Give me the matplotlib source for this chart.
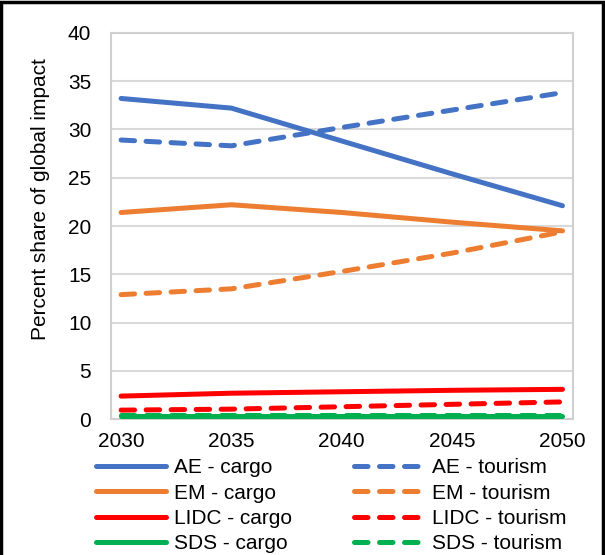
import matplotlib.pyplot as plt
from matplotlib.patches import Rectangle

plt.rcParams['font.family'] = ['Liberation Sans', 'DejaVu Sans']

# Share of global impact by country group and sector
years = [2030, 2035, 2040, 2045, 2050]
ae_cargo = [33.2, 32.2, 28.8, 25.4, 22.1]
ae_tourism = [28.9, 28.3, 30.2, 32.0, 33.8]
em_cargo = [21.4, 22.2, 21.4, 20.4, 19.5]
em_tourism = [12.9, 13.5, 15.3, 17.2, 19.4]
lidc_cargo = [2.4, 2.7, 2.85, 3.0, 3.1]
lidc_tourism = [0.95, 1.05, 1.3, 1.55, 1.8]
sds_cargo = [0.3, 0.3, 0.3, 0.3, 0.3]
sds_tourism = [0.4, 0.4, 0.4, 0.4, 0.4]

BLUE = '#4472C4'
ORANGE = '#ED7D31'
RED = '#FF0000'
GREEN = '#00B050'
FS = 15

fig = plt.figure(figsize=(6.05, 5.55), dpi=100)
ax = fig.add_axes([0.183, 0.2445, 0.7646, 0.6965])

lw = 3.6
dash = (0, (2.7, 2.3))
series = [
    (ae_cargo, BLUE, '-', 'AE - cargo'),
    (em_cargo, ORANGE, '-', 'EM - cargo'),
    (lidc_cargo, RED, '-', 'LIDC - cargo'),
    (sds_cargo, GREEN, '-', 'SDS - cargo'),
    (ae_tourism, BLUE, dash, 'AE - tourism'),
    (em_tourism, ORANGE, dash, 'EM - tourism'),
    (lidc_tourism, RED, dash, 'LIDC - tourism'),
    (sds_tourism, GREEN, dash, 'SDS - tourism'),
]
for vals, col, ls, lab in series:
    ax.plot(years, vals, color=col, linestyle=ls, lw=lw, label=lab,
            solid_capstyle='round', dash_capstyle='round', zorder=3)

ax.set_xlim(2029.53, 2050.49)
ax.set_ylim(0, 40)
ax.set_xticks(years)
ax.set_yticks(range(0, 41, 5))
ax.tick_params(length=0, labelsize=FS, colors='black')
ax.tick_params(axis='y', pad=14)
ax.tick_params(axis='x', pad=9)
ax.grid(axis='y', color='#D9D9D9', lw=1.5)
ax.set_axisbelow(True)
for sp in ax.spines.values():
    sp.set_color('#D0D0D0')
    sp.set_linewidth(1.5)

ax.set_ylabel('Percent share of global impact', fontsize=FS)
ax.yaxis.set_label_coords(-0.131, 0.57)

handles, labels = ax.get_legend_handles_labels()
fig.legend(handles, labels, loc='upper left', bbox_to_anchor=(0.158, 0.174),
           ncol=2, frameon=False, fontsize=FS, handlelength=3.4,
           handletextpad=0.35, columnspacing=3.0, labelspacing=0.3,
           borderaxespad=0, borderpad=0)

# outer frame of the figure
fig.patches.append(Rectangle((0.002, -0.05), 0.994, 1.046, transform=fig.transFigure,
                             fill=False, edgecolor='black', lw=2.5))

fig.savefig('out.png', dpi=100)
